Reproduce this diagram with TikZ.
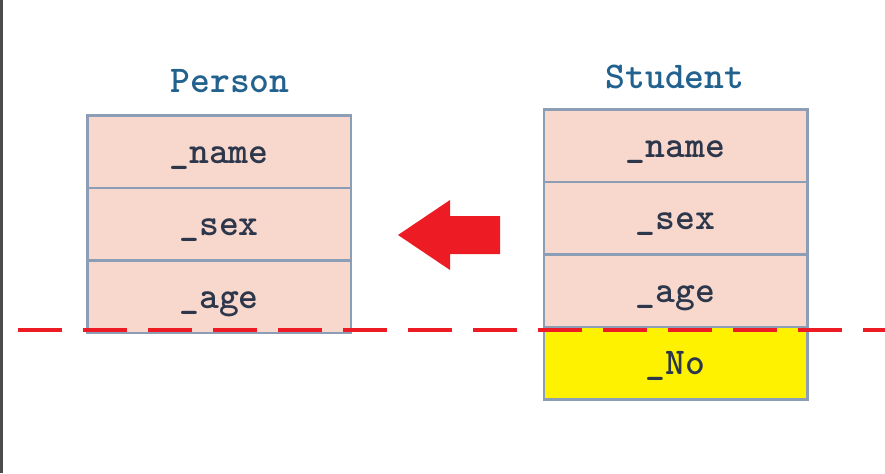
\documentclass[tikz,border=0pt]{standalone}
\usepackage{fontspec}
\definecolor{peach}{RGB}{248,215,204}
\definecolor{frame}{RGB}{140,158,182}
\definecolor{ink}{RGB}{45,55,75}
\definecolor{steel}{RGB}{35,98,142}
\definecolor{arrowred}{RGB}{237,28,36}

\begin{document}
\begin{tikzpicture}[field/.style = {rectangle, draw = frame, line width = 0.05 cm, fill = peach, minimum width = 5.27 cm, minimum height = 1.45 cm, text height = 0.46 cm, text depth = 0 cm, text = ink}, title/.style = {text = steel}, font = \ttfamily\bfseries\fontsize{21.5}{24}\selectfont]

	\useasboundingbox (0, 0) rectangle (17.7, 9.46);
	\fill [black!70] (0, 0) rectangle (0.06, 9.46);

	% base class
	\node [title] (person) at (4.6, 7.84) {Person};
	\node [field] (pname) at (4.38, 6.43) {\_name};
	\node [field] (psex) at (4.38, 4.98) {\_sex};
	\node [field] (page) at (4.38, 3.53) {\_age};

	% derived class
	\node [title] (student) at (13.5, 7.92) {Student};
	\node [field] (sname) at (13.51, 6.55) {\_name};
	\node [field] (ssex) at (13.51, 5.10) {\_sex};
	\node [field] (sage) at (13.51, 3.65) {\_age};
	\node [field, fill = yellow] (sno) at (13.51, 2.20) {\_No};

	\fill [arrowred] (7.96, 4.76) -- (9, 5.46) -- (9, 5.14) -- (10, 5.14) -- (10, 4.38) -- (9, 4.38) -- (9, 4.06) -- cycle;

	\draw [arrowred, line width = 0.08 cm, dash pattern = on 0.88 cm off 0.42 cm] (0.36, 2.86) -- (17.7, 2.86);

\end{tikzpicture}
\end{document}
